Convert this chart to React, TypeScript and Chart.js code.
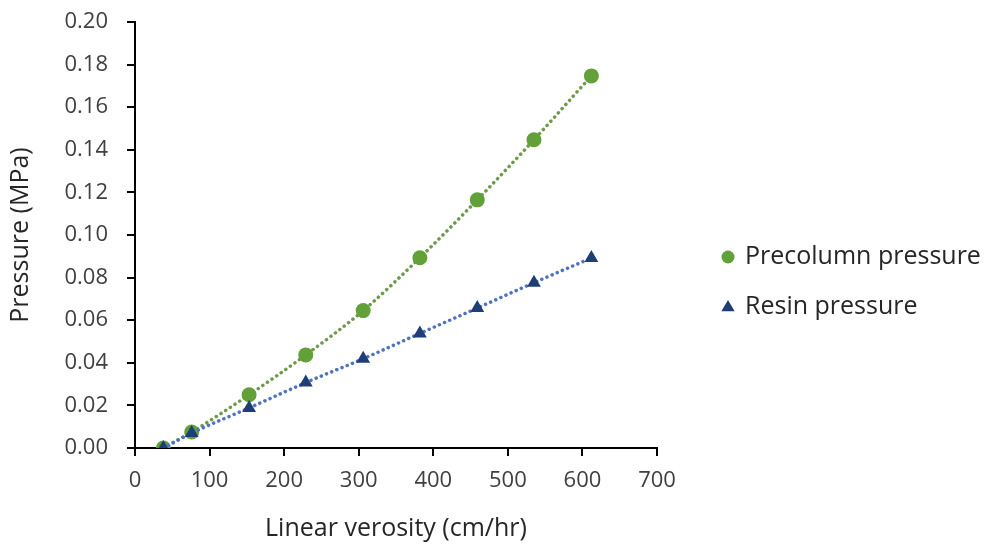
import React, { useEffect, useRef } from "react";
import { Chart, registerables } from "chart.js";

Chart.register(...registerables);

const velocity = [38, 76, 153, 229, 306, 382, 459, 535, 612];
const precolumnPressure = [0.0, 0.0075, 0.025, 0.0437, 0.0645, 0.0893, 0.1165, 0.1447, 0.1747];
const resinPressure = [0.0, 0.007, 0.0188, 0.0307, 0.0419, 0.0538, 0.0657, 0.0776, 0.0892];
const seriesLabels = ["Precolumn pressure", "Resin pressure"];
const xTitle = "Linear verosity (cm/hr)";
const yTitle = "Pressure (MPa)";

const FONT = "'Open Sans', sans-serif";
const GREEN = "#62A03A";
const GREEN_LINE = "#6F9A4B";
const NAVY = "#1F3E75";
const BLUE_LINE = "#4E74C0";

const legendPlugin = {
  id: "customLegend",
  afterDraw(chart: any) {
    const ctx = chart.ctx;
    const x0 = chart.chartArea.right + 71;
    const yStart = 257;
    const gap = 50;
    chart.data.datasets
      .slice()
      .sort((a: any, b: any) => (a.legendIndex ?? 0) - (b.legendIndex ?? 0))
      .forEach((ds: any, i: number) => {
        const y = yStart + i * gap;
        ctx.save();
        ctx.fillStyle = ds.pointBackgroundColor;
        ctx.beginPath();
        if (ds.pointStyle === "triangle") {
          const r = 7;
          ctx.moveTo(x0, y - r);
          ctx.lineTo(x0 + r * 0.95, y + r * 0.6);
          ctx.lineTo(x0 - r * 0.95, y + r * 0.6);
          ctx.closePath();
        } else {
          ctx.arc(x0, y, 6.5, 0, Math.PI * 2);
        }
        ctx.fill();
        ctx.fillStyle = "#262626";
        ctx.font = `25px ${FONT}`;
        ctx.textBaseline = "middle";
        ctx.textAlign = "left";
        ctx.fillText(ds.label, x0 + 17, y);
        ctx.restore();
      });
  },
};

export default function App() {
  const ref = useRef<HTMLCanvasElement | null>(null);
  useEffect(() => {
    if (!ref.current) return;
    const toPts = (ys: number[]) => velocity.map((x, i) => ({ x, y: ys[i] }));
    const chart = new Chart(ref.current, {
      type: "line",
      data: {
        datasets: [
          {
            label: seriesLabels[0],
            legendIndex: 0,
            data: toPts(precolumnPressure),
            borderColor: GREEN_LINE,
            borderWidth: 3.5,
            borderDash: [0.1, 5.5],
            borderCapStyle: "round",
            cubicInterpolationMode: "monotone",
            pointStyle: "circle",
            pointRadius: 7.5,
            pointBackgroundColor: GREEN,
            pointBorderColor: GREEN,
            pointBorderWidth: 0,
            order: 1,
          } as any,
          {
            label: seriesLabels[1],
            legendIndex: 1,
            data: toPts(resinPressure),
            borderColor: BLUE_LINE,
            borderWidth: 3.5,
            borderDash: [0.1, 5.5],
            borderCapStyle: "round",
            cubicInterpolationMode: "monotone",
            pointStyle: "triangle",
            pointRadius: 8,
            pointBackgroundColor: NAVY,
            pointBorderColor: NAVY,
            pointBorderWidth: 0,
            order: 0,
          } as any,
        ],
      },
      options: {
        responsive: false,
        animation: false,
        layout: { padding: { left: 0, right: 331, top: 22, bottom: 0 } },
        plugins: {
          legend: { display: false },
          tooltip: { enabled: false },
        },
        scales: {
          x: {
            type: "linear",
            min: 0,
            max: 700,
            afterFit: (s: any) => {
              s.height = 545 - 448;
              s.paddingLeft = 0;
              s.paddingRight = 0;
            },
            ticks: {
              stepSize: 100,
              color: "#404040",
              font: { family: FONT, size: 22 },
              padding: 12,
            },
            grid: { drawOnChartArea: false, drawTicks: true, tickLength: 8, color: "#000", lineWidth: 2 },
            border: { display: true, color: "#000", width: 2 },
            title: {
              display: true,
              text: xTitle,
              color: "#262626",
              font: { family: FONT, size: 25 },
              padding: { top: 0, bottom: 1 },
            },
          },
          y: {
            type: "linear",
            min: 0,
            max: 0.2,
            afterFit: (s: any) => {
              s.width = 135;
              s.paddingTop = 0;
              s.paddingBottom = 0;
            },
            ticks: {
              stepSize: 0.02,
              color: "#404040",
              font: { family: FONT, size: 22 },
              padding: 19,
              callback: (v: any) => Number(v).toFixed(2),
            },
            grid: { drawOnChartArea: false, drawTicks: true, tickLength: 8, color: "#000", lineWidth: 2 },
            border: { display: true, color: "#000", width: 2 },
            title: {
              display: true,
              text: yTitle,
              color: "#262626",
              font: { family: FONT, size: 25 },
              padding: { top: 6, bottom: 0 },
            },
          },
        },
      },
      plugins: [legendPlugin],
    });
    return () => chart.destroy();
  }, []);
  return (
    <div style={{ position: "fixed", left: 0, top: 0, width: 988, height: 545, background: "#fff" }}>
      <canvas ref={ref} width={988} height={545} />
    </div>
  );
}
